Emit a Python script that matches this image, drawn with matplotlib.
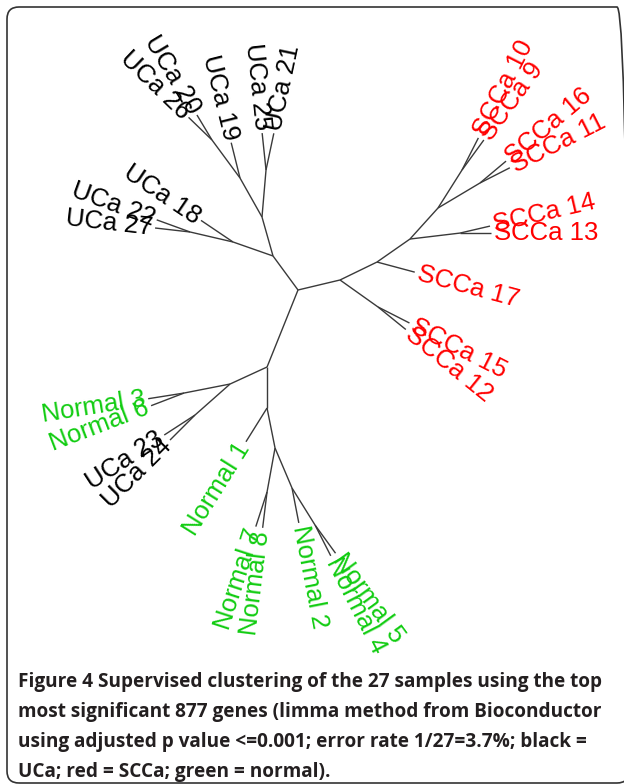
import numpy as np
import matplotlib
matplotlib.use("Agg")
import matplotlib.pyplot as plt
from matplotlib.patches import FancyBboxPatch

# unrooted tree, one entry per edge: child, parent, branch length, direction (degrees)
children = ["a", "a2", "a3", "UCa 25", "UCa 21", "a4", "UCa 19", "a5", "UCa 20", "UCa 26",
            "a1", "UCa 18", "a1b", "UCa 22", "UCa 27",
            "b", "b1", "SCCa 17", "b2", "b3", "SCCa 14", "SCCa 13", "b4", "b5", "SCCa 16",
            "SCCa 11", "b6", "SCCa 10", "SCCa 9", "b7", "SCCa 15", "SCCa 12",
            "c", "c1", "c2", "Normal 3", "Normal 6", "c3", "UCa 23", "UCa 24",
            "c4", "Normal 1", "c5", "c6", "Normal 7", "Normal 8", "c7", "Normal 2", "c8",
            "Normal 5", "Normal 4"]
parents = ["root", "a", "a2", "a3", "a3", "a2", "a4", "a4", "a5", "a5",
           "a", "a1", "a1", "a1b", "a1b",
           "root", "b", "b1", "b1", "b2", "b3", "b3", "b2", "b4", "b5",
           "b5", "b4", "b6", "b6", "b", "b7", "b7",
           "root", "c", "c1", "c2", "c2", "c1", "c3", "c3",
           "c", "c4", "c4", "c5", "c6", "c6", "c5", "c7", "c7",
           "c8", "c8"]
lengths = [42.2, 40.5, 47.2, 37.1, 37.5, 44.8, 36.4, 47.2, 29.2, 32.6,
           42.4, 38.6, 44.1, 35.5, 35.2,
           43.2, 41.1, 39.1, 40.2, 50.4, 30.8, 31.0, 41.8, 48.9, 34.0,
           33.5, 44.9, 36.1, 37.2, 46.6, 35.3, 35.8,
           83.0, 40.7, 46.9, 36.3, 35.3, 46.8, 36.7, 35.4,
           41.0, 39.8, 40.8, 44.7, 36.4, 36.1, 43.5, 35.5, 43.6,
           34.8, 34.5]
angles = [126.3, 105.8, 85.1, 96.0, 78.0, 119.4, 104.0, 126.4, 121.0, 136.0,
          160.7, 146.0, 166.9, 160.0, 173.5,
          13.4, 25.9, -15.0, 34.9, 6.8, 13.1, 0.0, 47.9, 30.8, 40.0,
          27.0, 57.7, 63.0, 54.0, -35.4, -27.0, -39.0,
          248.1, 204.7, 191.1, 189.0, 201.0, 221.5, 213.0, 225.0,
          270.0, 238.0, 281.3, 259.7, 252.0, 263.0, 293.0, 281.0, 301.9,
          306.0, 297.0]

group_colors = {"UCa": "black", "SCCa": "#ff0000", "Normal": "#11cc11"}

caption = ["Supervised clustering of the 27 samples using the top",
           "most significant 877 genes (limma method from Bioconductor",
           "using adjusted p value <=0.001; error rate 1/27=3.7%; black =",
           "UCa; red = SCCa; green = normal)."]

fig = plt.figure(figsize=(6.24, 7.84), dpi=100)
ax = fig.add_axes([0, 0, 1, 1])
# one data unit = one pixel, root of the tree at the origin
ax.set_xlim(-298, 326)
ax.set_ylim(-494, 290)
ax.axis("off")

pos = {"root": np.zeros(2)}
for child, parent, length, ang in zip(children, parents, lengths, angles):
    t = np.deg2rad(ang)
    d = np.array([np.cos(t), np.sin(t)])
    pos[child] = pos[parent] + length * d
    ax.plot([pos[parent][0], pos[child][0]], [pos[parent][1], pos[child][1]],
            color="#3a3a3a", lw=1.0, solid_capstyle="butt")
    if " " not in child:
        continue
    # axial labels, flipped on the left half so they stay readable
    a = ang % 360
    if 90 < a < 270:
        rot, ha = a - 180, "right"
    else:
        rot, ha = (a if a <= 90 else a - 360), "left"
    lp = pos[child] + 3 * d
    ax.text(lp[0], lp[1], child, rotation=rot, rotation_mode="anchor",
            ha=ha, va="center", fontsize=18.5, family="Liberation Sans",
            color=group_colors[child.split()[0]])

# frame round the figure (right side runs off the page)
frame = FancyBboxPatch((-291, -493), 622, 776, boxstyle="round,pad=0,rounding_size=12",
                       fc="none", ec="#333333", lw=1.2, clip_on=False)
ax.add_patch(frame)

# caption
renderer = fig.canvas.get_renderer()
cap_kw = dict(family="Open Sans", fontsize=13.7, color="#231f20", weight="bold")
y0 = 1 - 687 / 784
t1 = fig.text(18 / 624, y0, "Figure 4", **cap_kw)
bb = t1.get_window_extent(renderer)
fig.text((bb.x1 + 5) / 624, y0, caption[0], **cap_kw)
for i, line in enumerate(caption[1:]):
    fig.text(18 / 624, y0 - (i + 1) * 30 / 784, line, **cap_kw)

fig.savefig("out.png", dpi=100)
